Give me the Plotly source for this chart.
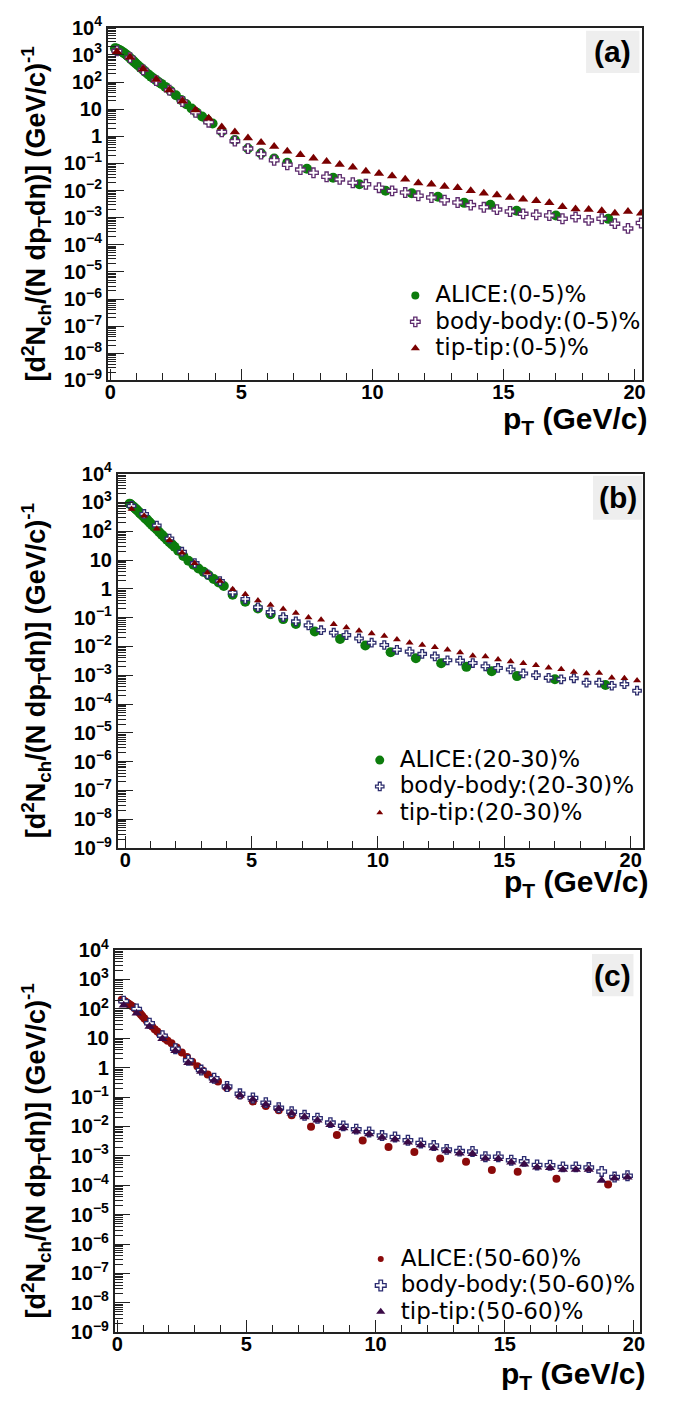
import plotly.graph_objects as go

# ---------------- data ----------------
pt_alice = [0.175, 0.225, 0.275, 0.325, 0.375, 0.425, 0.475, 0.525, 0.575, 0.625,
            0.675, 0.725, 0.775, 0.825, 0.875, 0.925, 0.975, 1.05, 1.15, 1.25,
            1.35, 1.45, 1.55, 1.65, 1.75, 1.85, 1.95, 2.1, 2.3, 2.5,
            2.7, 2.9, 3.1, 3.3, 3.5, 3.7, 3.9, 4.25, 4.75, 5.25,
            5.75, 6.25, 6.75, 7.5, 8.5, 9.5, 10.5, 11.5, 12.5, 13.5,
            14.5, 15.5, 17.0, 19.0]

pt_model = [0.25, 0.75, 1.25, 1.75, 2.25, 2.75, 3.25, 3.75, 4.25, 4.75,
            5.25, 5.75, 6.25, 6.75, 7.25, 7.75, 8.25, 8.75, 9.25, 9.75,
            10.25, 10.75, 11.25, 11.75, 12.25, 12.75, 13.25, 13.75, 14.25, 14.75,
            15.25, 15.75, 16.25, 16.75, 17.25, 17.75, 18.25, 18.75, 19.25, 19.75,
            20.25]

pt_model_c = [0.25, 0.75, 1.25, 1.75, 2.25, 2.75, 3.25, 3.75, 4.25, 4.75,
              5.25, 5.75, 6.25, 6.75, 7.25, 7.75, 8.25, 8.75, 9.25, 9.75,
              10.25, 10.75, 11.25, 11.75, 12.25, 12.75, 13.25, 13.75, 14.25, 14.75,
              15.25, 15.75, 16.25, 16.75, 17.25, 17.75, 18.25, 18.75, 19.25, 19.75]

# (a) 0-5 %
alice_a = [1740, 1700, 1620, 1550, 1450, 1350, 1260, 1150, 1070, 977,
           891, 813, 724, 661, 589, 537, 479, 417, 339, 282,
           229, 191, 158, 135, 115, 97.7, 85.1, 66.1, 46.8, 32.4,
           21.9, 15.1, 10.5, 7.41, 5.37, 3.98, 2.95, 1.51, 0.724, 0.355,
           0.234, 0.151, 0.105, 0.063, 0.0295, 0.017, 0.0098, 0.0079, 0.0059, 0.0035,
           0.0030, 0.0018, 0.0012, 0.0009]
body_a = [1410, 790, 280, 112, 50, 19, 7.6, 3.3, 1.45, 0.66,
          0.35, 0.22, 0.13, 0.089, 0.059, 0.045, 0.032, 0.0257, 0.0193, 0.0169,
          0.0127, 0.0097, 0.0084, 0.0064, 0.0055, 0.0044, 0.0036, 0.0029, 0.0024, 0.00198,
          0.00168, 0.00138, 0.00127, 0.0012, 0.00091, 0.00105, 0.00079, 0.00091, 0.0006, 0.0004,
          0.00063]
tip_a = [1300, 820, 300, 123, 51, 20, 9.3, 4.6, 2.2, 1.44,
         0.87, 0.59, 0.42, 0.28, 0.21, 0.155, 0.118, 0.09, 0.072, 0.051,
         0.042, 0.034, 0.026, 0.019, 0.017, 0.014, 0.0127, 0.0097, 0.008, 0.0069,
         0.0055, 0.0048, 0.0042, 0.0035, 0.0025, 0.0021, 0.0020, 0.0018, 0.00146, 0.00168,
         0.00146]

# (b) 20-30 %
alice_b = [912, 851, 776, 708, 646, 589, 537, 490, 437, 398,
           363, 324, 295, 269, 245, 219, 200, 170, 138, 115,
           93, 76, 62, 51, 42, 35, 29, 21, 13.8, 9.5,
           6.9, 5.1, 3.9, 2.95, 2.2, 1.66, 1.26, 0.63, 0.355, 0.209,
           0.132, 0.089, 0.060, 0.033, 0.018, 0.0107, 0.0063, 0.0039, 0.0026, 0.00195,
           0.00138, 0.00093, 0.00072, 0.00046]
body_b = [760, 400, 158, 56, 19.5, 7.8, 3.2, 1.86, 0.74, 0.44,
          0.23, 0.155, 0.105, 0.074, 0.054, 0.0366, 0.030, 0.0247, 0.0189, 0.0135,
          0.0112, 0.0076, 0.0066, 0.0055, 0.0045, 0.0033, 0.0032, 0.00265, 0.00204, 0.00179,
          0.00158, 0.00115, 0.0010, 0.00081, 0.00072, 0.00078, 0.00055, 0.00055, 0.00043, 0.00049,
          0.00029]
tip_b = [590, 345, 123, 49, 18, 7.8, 3.6, 1.86, 0.96, 0.65,
         0.39, 0.275, 0.20, 0.146, 0.102, 0.085, 0.059, 0.045, 0.035, 0.028,
         0.023, 0.0174, 0.0135, 0.0112, 0.0093, 0.0076, 0.0062, 0.0047, 0.0045, 0.0035,
         0.0030, 0.0026, 0.0022, 0.0018, 0.0016, 0.0013, 0.00115, 0.0012, 0.00081, 0.00078,
         0.00066]

# (c) 50-60 %
alice_c = [204, 195, 186, 174, 162, 151, 141, 132, 123, 115,
           107, 97.7, 89.1, 79.4, 70.8, 63.1, 56.2, 46.8, 38.0, 30.9,
           25.1, 20.4, 17.0, 14.1, 11.5, 9.55, 8.32, 6.76, 4.90, 3.31,
           2.29, 1.58, 1.12, 0.794, 0.589, 0.457, 0.339, 0.204, 0.112, 0.071,
           0.050, 0.0355, 0.024, 0.0098, 0.0051, 0.0033, 0.0020, 0.00135, 0.00081, 0.00063,
           0.00033, 0.00029, 0.000166, 0.000105]
body_c = [182, 100, 32.4, 12.3, 4.42, 1.79, 0.83, 0.436, 0.229, 0.129,
          0.093, 0.0646, 0.0437, 0.0316, 0.024, 0.019, 0.0135, 0.0105, 0.0081, 0.0065,
          0.0049, 0.0044, 0.0034, 0.00275, 0.00224, 0.00166, 0.00145, 0.00141, 0.00093, 0.00093,
          0.00071, 0.00065, 0.00049, 0.00048, 0.00042, 0.00042, 0.0004, 0.000295, 0.00019, 0.00021]
tip_c = [132, 70.8, 25.1, 9.55, 3.8, 1.48, 0.74, 0.363, 0.214, 0.115,
         0.083, 0.056, 0.040, 0.028, 0.021, 0.0162, 0.0115, 0.0089, 0.0069, 0.0055,
         0.0042, 0.0037, 0.0029, 0.00234, 0.00186, 0.00145, 0.00123, 0.00117, 0.00081, 0.00079,
         0.0006, 0.00052, 0.00041, 0.00039, 0.00034, 0.00034, 0.00034, 0.000145, 0.000174, 0.000186]

ytick_vals = [1e-9, 1e-8, 1e-7, 1e-6, 1e-5, 1e-4, 1e-3, 1e-2, 1e-1, 1, 10, 100, 1000, 10000]
ytick_text = ["10<sup>\u22129</sup>", "10<sup>\u22128</sup>", "10<sup>\u22127</sup>",
              "10<sup>\u22126</sup>", "10<sup>\u22125</sup>", "10<sup>\u22124</sup>",
              "10<sup>\u22123</sup>", "10<sup>\u22122</sup>", "10<sup>\u22121</sup>",
              "1", "10", "10<sup>2</sup>", "10<sup>3</sup>", "10<sup>4</sup>"]
xtick_vals = [0, 5, 10, 15, 20]
xtick_text = ["0", "5", "10", "15", "20"]

W, H = 680, 1410
FONT = "Liberation Sans, Arial, Helvetica, sans-serif"
LEGFONT = "DejaVu Sans"

panels = [
    dict(box=(106, 647, 14, 373), xr=[-0.1, 20.3], tag="(a)", cent="0-5",
         alice=alice_a, body=body_a, tip=tip_a, xm=pt_model,
         c_alice="#0c7c0c", c_body="#5e2c6e", c_tip="#7a0000",
         s_alice=10, s_body=8, s_tip=9, l_alice=8, l_body=8, l_tip=8,
         leg_xy=(397, 268), tagbox=(590, 644, 17, 60), xt_off=41),
    dict(box=(116, 648, 468, 849), xr=[-0.3, 20.5], tag="(b)", cent="20-30",
         alice=alice_b, body=body_b, tip=tip_b, xm=pt_model,
         c_alice="#0c7c0c", c_body="#2e2e6e", c_tip="#7a0000",
         s_alice=10, s_body=7, s_tip=7, l_alice=9, l_body=7, l_tip=6,
         leg_xy=(361, 741), tagbox=(597, 647, 470, 515), xt_off=36),
    dict(box=(113, 645, 953, 1342), xr=[-0.1, 20.25], tag="(c)", cent="50-60",
         alice=alice_c, body=body_c, tip=tip_c, xm=pt_model_c,
         c_alice="#8a0a0a", c_body="#2a2a70", c_tip="#3a0a46",
         s_alice=8, s_body=8, s_tip=9, l_alice=6, l_body=9, l_tip=8,
         leg_xy=(362, 1249), tagbox=(596, 638, 957, 1000), xt_off=44),
]


def legname(t):
    return '<span style="font-family:DejaVu Sans;font-size:23px">%s</span>' % t


fig = go.Figure()
layout = dict(width=W, height=H, margin=dict(l=0, r=0, t=0, b=0),
              paper_bgcolor="white", plot_bgcolor="white",
              font=dict(family=FONT, color="black"), annotations=[], shapes=[])

for i, p in enumerate(panels):
    n = "" if i == 0 else str(i + 1)
    m = str(i + 4)  # overlay axes carrying the minor ticks
    L, R, T, B = p["box"]
    xa, ya = "x" + n, "y" + n
    leg = "legend" + n
    specs = [
        ("ALICE:(%s)%%" % p["cent"], pt_alice, p["alice"],
         dict(symbol="circle", color=p["c_alice"], line=dict(width=0)), p["s_alice"], p["l_alice"]),
        ("body-body:(%s)%%" % p["cent"], p["xm"], p["body"],
         dict(symbol="cross", color="white", line=dict(width=1.3, color=p["c_body"])),
         p["s_body"], p["l_body"]),
        ("tip-tip:(%s)%%" % p["cent"], p["xm"], p["tip"],
         dict(symbol="triangle-up", color=p["c_tip"], line=dict(width=0)), p["s_tip"], p["l_tip"]),
    ]
    for name, xs, ys, mk, sz, lsz in specs:
        fig.add_trace(go.Scatter(x=xs, y=ys, mode="markers", xaxis=xa, yaxis=ya,
                                 name=name, showlegend=False,
                                 marker=dict(size=sz, **mk)))
        fig.add_trace(go.Scatter(x=[None], y=[None], mode="markers", xaxis=xa, yaxis=ya,
                                 name=legname(name), legend=leg, showlegend=True,
                                 marker=dict(size=lsz, **mk)))
    # empty trace so the minor-tick overlay axes are drawn
    fig.add_trace(go.Scatter(x=[None], y=[None], mode="markers", xaxis="x" + m, yaxis="y" + m,
                             showlegend=False, hoverinfo="skip"))
    dom_x = [L / W, R / W]
    dom_y = [1 - B / H, 1 - T / H]
    layout["xaxis" + n] = dict(domain=dom_x, anchor=ya, range=p["xr"], showline=True, mirror=True,
                               linecolor="#222", linewidth=1.5, showgrid=False, zeroline=False,
                               tickmode="array", tickvals=xtick_vals, ticktext=xtick_text,
                               ticks="inside", ticklen=12, tickwidth=1.2, tickcolor="#222",
                               ticklabelstandoff=-7,
                               tickfont=dict(family=FONT, size=20, color="black", weight="bold"))
    layout["yaxis" + n] = dict(domain=dom_y, anchor=xa, type="log", range=[-9, 4], showline=True,
                               mirror=True, linecolor="#222", linewidth=1.5, showgrid=False,
                               zeroline=False, tickmode="array", tickvals=ytick_vals,
                               ticktext=ytick_text, ticks="inside", ticklen=16, tickwidth=1.2,
                               tickcolor="#222",
                               tickfont=dict(family=FONT, size=20, color="black", weight="bold"))
    # minor ticks
    layout["xaxis" + m] = dict(overlaying=xa, anchor="y" + m, range=p["xr"], showline=False,
                               showgrid=False, zeroline=False, showticklabels=False,
                               tickmode="linear", tick0=0, dtick=1, ticks="inside", ticklen=7,
                               tickwidth=1.2, tickcolor="#222")
    layout["yaxis" + m] = dict(overlaying=ya, anchor="x" + m, type="log", range=[-9, 4],
                               showline=False, showgrid=False, zeroline=False,
                               showticklabels=False, tickmode="linear", dtick="D1",
                               ticks="inside", ticklen=8, tickwidth=1, tickcolor="#222")
    lx, ly = p["leg_xy"]
    layout[leg] = dict(x=lx / W, y=1 - ly / H, xanchor="left", yanchor="top",
                       bgcolor="rgba(0,0,0,0)", borderwidth=0,
                       font=dict(family=LEGFONT, size=18, color="black"),
                       itemsizing="trace")
    # y title
    layout["annotations"].append(dict(
        xref="paper", yref="paper", x=33 / W, y=1 - ((T + B) / 2 + 10) / H,
        xanchor="center", yanchor="middle", textangle=-90, showarrow=False,
        text="<b>[d<sup>2</sup>N<sub>ch</sub>/(N dp<sub>T</sub>d\u03b7)] (GeV/c)<sup>-1</sup></b>",
        font=dict(family=FONT, size=27, color="black")))
    # x title
    layout["annotations"].append(dict(
        xref="paper", yref="paper", x=(R + 8) / W, y=1 - (B + p["xt_off"]) / H,
        xanchor="right", yanchor="middle", showarrow=False,
        text="<b>p<sub>T</sub> (GeV/c)</b>",
        font=dict(family=FONT, size=30, color="black")))
    # panel tag
    bl, br, bt, bb = p["tagbox"]
    layout["shapes"].append(dict(type="rect", xref="paper", yref="paper",
                                 x0=bl / W, x1=br / W, y0=1 - bb / H, y1=1 - bt / H,
                                 fillcolor="#eeeeee", line=dict(width=0), layer="below"))
    layout["annotations"].append(dict(
        xref="paper", yref="paper", x=(bl + br) / 2 / W, y=1 - (bt + bb) / 2 / H,
        xanchor="center", yanchor="middle", showarrow=False,
        text="<b>%s</b>" % p["tag"], font=dict(family=FONT, size=30, color="black")))

fig.update_layout(**layout)
fig.write_html("out.html")
